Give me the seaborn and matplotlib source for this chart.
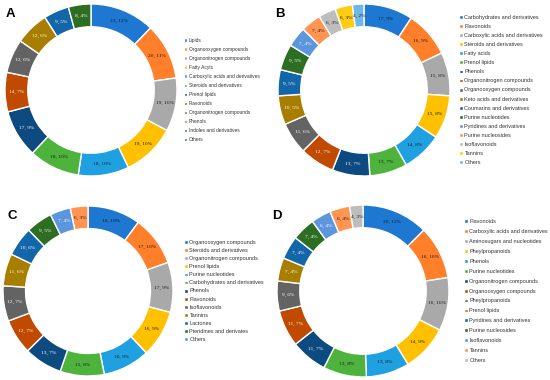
import numpy as np
import matplotlib
matplotlib.use('Agg')
import matplotlib.pyplot as plt
import seaborn as sns

# %% data

a_names = ['Lipids', 'Organooxygen compounds', 'Organonitrogen compounds', 'Fatty Acyls',
           'Carboxylic acids and derivatives', 'Steroids and derivatives', 'Prenol lipids',
           'Flavonoids', 'Organonitrogen compounds', 'Phenols', 'Indoles and derivatives', 'Others']
a_values = [23, 20, 19, 19, 18, 18, 17, 14, 12, 12, 9, 8]
a_pcts = [12, 11, 10, 10, 10, 10, 9, 7, 6, 6, 5, 4]

b_names = ['Carbohydrates and derivatives', 'Flavonoids', 'Carboxylic acids and derivatives',
           'Steroids and derivatives', 'Fatty acids', 'Prenol lipids', 'Phenols',
           'Organonitrogen compounds', 'Organooxygen compounds', 'Keto acids and derivatives',
           'Coumarins and derivatives', 'Purine nucleotides', 'Pyridines and derivatives',
           'Purine nucleosides', 'Isoflavonoids', 'Tannins', 'Others']
b_values = [17, 16, 15, 15, 14, 13, 13, 12, 11, 10, 9, 9, 7, 7, 6, 6, 4]
b_pcts = [9, 9, 8, 8, 8, 7, 7, 7, 6, 5, 5, 5, 4, 4, 3, 3, 2]

c_names = ['Organooxygen compounds', 'Steroids and derivatives', 'Organonitrogen compounds',
           'Prenol lipids', 'Purine nucleotides', 'Carbohydrates and derivatives', 'Phenols',
           'Flavonoids', 'Isoflavonoids', 'Tannins', 'Lactones', 'Pteridines and derivates', 'Others']
c_values = [18, 17, 17, 16, 16, 15, 13, 12, 12, 11, 10, 9, 7, 6]
c_pcts = [10, 10, 9, 9, 9, 8, 7, 7, 7, 6, 6, 5, 4, 3]

d_names = ['Flavonoids', 'Carboxylic acids and derivatives', 'Aminosugars and nucleotides',
           'Pheylpropanoids', 'Phenols', 'Purine nucleotides', 'Organonitrogen compounds',
           'Organooxygen compounds', 'Pheylpropanoids', 'Prenol lipids', 'Pyridines and derivatives',
           'Purine nucleosides', 'Isoflavonoids', 'Tannins', 'Others']
d_values = [20, 16, 16, 14, 13, 13, 11, 11, 9, 7, 7, 7, 6, 6, 4]
d_pcts = [12, 10, 10, 9, 8, 8, 7, 7, 6, 4, 4, 4, 4, 4, 3]

# %% style

palette = sns.color_palette(['#1E78D2', '#FF7F2A', '#A9A9A9', '#FFC000', '#1FA0E0', '#4DB33D',
                             '#0D4A80', '#C04A00', '#636363', '#A87E00', '#1366A8', '#2E6E22',
                             '#5B96DE', '#FF9550', '#BDBDBD', '#FFCC11', '#6DB8EA'])
light_text = {6, 7, 8, 9, 10, 11, 12}

sns.set_theme(style='white')
plt.rcParams['font.family'] = ['Liberation Sans', 'DejaVu Sans']

W, H = 550, 380
fig = plt.figure(figsize=(W / 100, H / 100), dpi=100)


def donut(cx, cy, r, values, pcts, names, letter, letter_xy, leg_x, leg_fs, leg_ls):
    ax = fig.add_axes([(cx - r) / W, 1 - (cy + r) / H, 2 * r / W, 2 * r / H])
    wedges, _ = ax.pie(values, colors=palette[:len(values)], startangle=90, counterclock=False,
                       radius=1, wedgeprops=dict(width=0.265, edgecolor='white', linewidth=1.0))
    ax.set_xlim(-1, 1)
    ax.set_ylim(-1, 1)
    ax.set_aspect('equal')
    for i, (w, v, p) in enumerate(zip(wedges, values, pcts)):
        ang = np.deg2rad((w.theta1 + w.theta2) / 2)
        ax.text(0.868 * np.cos(ang), 0.868 * np.sin(ang), f'{v}, {p}%',
                ha='center', va='center', fontsize=3.9, family=['Liberation Serif'],
                color='white' if i in light_text else '#1a1a1a')
    fig.legend(wedges[:len(names)], names, loc='center left',
               bbox_to_anchor=(leg_x / W, 1 - cy / H), bbox_transform=fig.transFigure,
               frameon=False, fontsize=leg_fs, labelspacing=leg_ls, borderpad=0,
               borderaxespad=0, handlelength=0.7, handleheight=0.7, handletextpad=0.3,
               labelcolor='#333333')
    fig.text(letter_xy[0] / W, 1 - letter_xy[1] / H, letter, fontsize=9.5, fontweight='bold',
             ha='center', va='center', color='black')


donut(91, 90, 86, a_values, a_pcts, a_names, 'A', (10, 14), 184, 3.5, 0.84)
donut(364, 90, 86, b_values, b_pcts, b_names, 'B', (280, 14), 459, 3.95, 0.74)
donut(88, 291, 85, c_values, c_pcts, c_names, 'C', (12, 216), 184, 3.95, 0.56)
donut(363, 291, 86, d_values, d_pcts, d_names, 'D', (277, 216), 464, 3.95, 0.9)

fig.savefig('out.png', dpi=100)
